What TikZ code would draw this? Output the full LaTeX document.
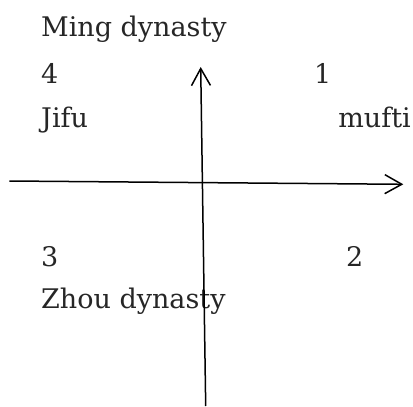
\documentclass[tikz,border=0pt]{standalone}
\usepackage{fontspec}
\setmainfont{DejaVu Serif}
\usetikzlibrary{arrows.meta}
\begin{document}
\begin{tikzpicture}[x=1pt,y=-1pt,
  lbl/.style={anchor=base west,inner sep=0pt,font=\fontsize{27}{31}\selectfont,text=black!85},
  axis/.style={line width=1.5pt,-{Straight Barb[length=17pt,width=19pt,line width=1.5pt]}}]
\useasboundingbox (0,0) rectangle (413,407);
\node[lbl] (ming) at (41,36.5) {Ming dynasty};
\node[lbl] (four) at (41,83) {4};
\node[lbl] (one) at (314,83) {1};
\node[lbl] (jifu) at (41,127) {Jifu};
\node[lbl,anchor=base east] (mufti) at (411,127) {mufti};
\node[lbl] (three) at (41,266) {3};
\node[lbl] (two) at (346,266) {2};
\node[lbl] (zhou) at (41,308) {Zhou dynasty};
\coordinate (vb) at (205.7,406);
\coordinate (vt) at (200.7,67);
\coordinate (hl) at (9.3,181);
\coordinate (hr) at (403.3,184.3);
\draw[axis] (vb) -- (vt);
\draw[axis] (hl) -- (hr);
\end{tikzpicture}
\end{document}
